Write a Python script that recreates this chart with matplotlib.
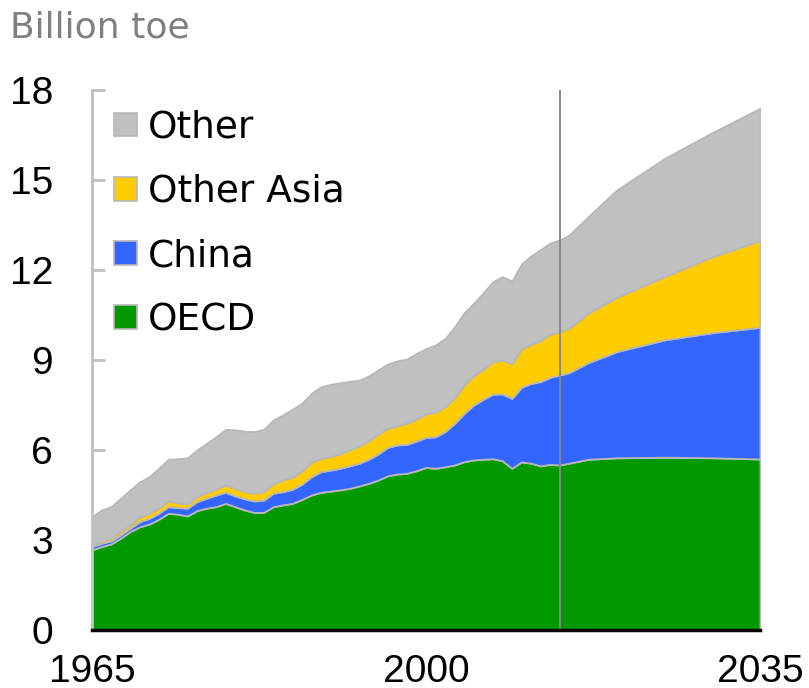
import matplotlib
matplotlib.use("Agg")
import matplotlib.pyplot as plt
from matplotlib.patches import Patch
import numpy as np

# Billion toe
years = list(range(1965, 2014)) + [2014, 2015, 2017, 2020, 2025, 2030, 2035]

oecd = [2.67, 2.78, 2.87, 3.06, 3.28, 3.44, 3.53, 3.69, 3.89, 3.86,
        3.80, 3.98, 4.06, 4.11, 4.22, 4.11, 4.00, 3.92, 3.92, 4.11,
        4.17, 4.22, 4.35, 4.50, 4.59, 4.63, 4.67, 4.72, 4.80, 4.89,
        5.00, 5.14, 5.20, 5.22, 5.31, 5.42, 5.39, 5.44, 5.50, 5.61,
        5.67, 5.69, 5.71, 5.64, 5.39, 5.60, 5.56, 5.47, 5.52,
        5.50, 5.56, 5.69, 5.74, 5.76, 5.74, 5.70]
china = [0.11, 0.11, 0.10, 0.11, 0.11, 0.17, 0.19, 0.20, 0.22, 0.22,
         0.26, 0.30, 0.33, 0.39, 0.37, 0.36, 0.37, 0.38, 0.41, 0.45,
         0.44, 0.47, 0.51, 0.61, 0.69, 0.70, 0.72, 0.75, 0.76, 0.80,
         0.87, 0.95, 0.97, 0.97, 0.99, 1.00, 1.05, 1.17, 1.39, 1.61,
         1.83, 2.00, 2.15, 2.23, 2.33, 2.49, 2.66, 2.81, 2.90,
         3.00, 3.02, 3.22, 3.54, 3.91, 4.17, 4.39]
other_asia = [0.05, 0.08, 0.09, 0.11, 0.11, 0.15, 0.17, 0.17, 0.19, 0.16,
              0.14, 0.16, 0.19, 0.19, 0.24, 0.25, 0.24, 0.26, 0.28, 0.31,
              0.39, 0.40, 0.44, 0.48, 0.44, 0.45, 0.48, 0.53, 0.57, 0.62,
              0.66, 0.63, 0.64, 0.70, 0.73, 0.78, 0.82, 0.83, 0.85, 0.95,
              0.97, 1.00, 1.08, 1.13, 1.15, 1.27, 1.30, 1.36, 1.44,
              1.44, 1.48, 1.65, 1.81, 2.11, 2.53, 2.89]
other = [0.95, 1.03, 1.05, 1.11, 1.17, 1.18, 1.22, 1.33, 1.39, 1.47,
         1.54, 1.56, 1.64, 1.75, 1.86, 1.95, 2.02, 2.05, 2.08, 2.13,
         2.17, 2.27, 2.26, 2.30, 2.39, 2.41, 2.37, 2.29, 2.20, 2.16,
         2.14, 2.15, 2.16, 2.14, 2.19, 2.18, 2.24, 2.28, 2.37, 2.41,
         2.42, 2.55, 2.67, 2.78, 2.76, 2.84, 2.95, 3.04, 3.04,
         3.06, 3.11, 3.22, 3.58, 3.94, 4.14, 4.41]

labels = ["OECD", "China", "Other Asia", "Other"]
colors = ["#009900", "#3366ff", "#ffcc00", "#c0c0c0"]
split_year = 2014

fig = plt.figure(figsize=(8.09, 6.88), dpi=100)
ax = fig.add_axes([0.1137, 0.0843, 0.8257, 0.7849])

ax.stackplot(years, oecd, china, other_asia, other, colors=colors,
             edgecolor="#b8b8b8", linewidth=1.3)
ax.axvline(split_year, color="#888888", lw=1.4, zorder=5)

ax.set_xlim(1965, 2035)
ax.set_ylim(0, 18)
ax.set_xticks([1965, 2000, 2035])
ax.set_yticks(np.arange(0, 19, 3))

tick_font = dict(family="Liberation Sans", size=28)
ax.set_xticklabels([str(y) for y in [1965, 2000, 2035]], **tick_font)
ax.set_yticklabels([str(v) for v in range(0, 19, 3)], **tick_font)
ax.tick_params(axis="y", direction="in", length=9, width=2, color="#c0c0c0", pad=28)
ax.tick_params(axis="x", length=0, pad=17)

for s in ["top", "right"]:
    ax.spines[s].set_visible(False)
ax.spines["left"].set_color("#c0c0c0")
ax.spines["left"].set_linewidth(2)
ax.spines["bottom"].set_color("black")
ax.spines["bottom"].set_linewidth(2.5)
ax.spines["bottom"].set_zorder(6)

handles = [Patch(facecolor=c, edgecolor="#b8b8b8", linewidth=1.2) for c in colors]
leg = ax.legend(handles[::-1], labels[::-1], loc="upper left",
                bbox_to_anchor=(-0.006, 1.012), frameon=False,
                prop=dict(family="DejaVu Sans", size=27),
                handlelength=0.6, handleheight=0.6, handletextpad=0.3,
                labelspacing=0.75, borderaxespad=0.3)

fig.text(0.012, 0.945, "Billion toe", family="DejaVu Sans", size=26,
         color="#808080", ha="left", va="baseline")

fig.savefig("out.png", dpi=100)
